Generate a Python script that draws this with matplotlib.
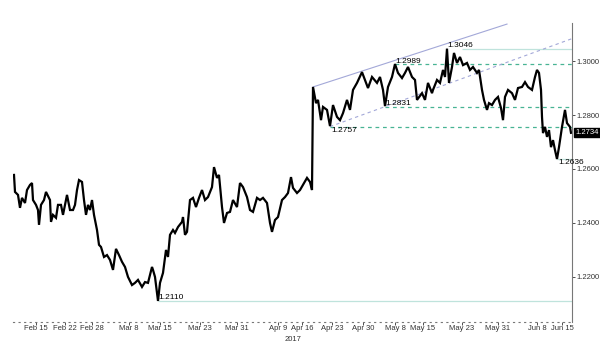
import matplotlib
matplotlib.use("Agg")
import matplotlib.pyplot as plt
import matplotlib.transforms as mtransforms

plt.rcParams["font.family"] = ["Liberation Sans Narrow", "Liberation Sans", "DejaVu Sans"]

# 4-hour bar index and close price (GBP/USD, Feb - Jun 2017)
bars = [1, 2, 5, 7, 9, 12, 14, 17, 19, 20, 23, 25, 26, 28, 31, 33, 35, 37, 38, 40,
        43, 45, 48, 50, 52, 54, 57, 60, 62, 64, 66, 69, 71, 73, 75, 77, 79, 81, 84, 86,
        88, 91, 94, 97, 100, 103, 106, 109, 112, 115, 119, 122, 125, 129, 132, 135, 139, 140, 142, 144,
        145, 147, 150, 153, 155, 157, 160, 162, 165, 169, 170, 172, 174, 177, 180, 183, 186, 189, 192, 195,
        199, 201, 204, 206, 209, 211, 214, 217, 220, 224, 227, 230, 234, 237, 240, 244, 247, 250, 254, 257,
        259, 262, 265, 269, 272, 275, 278, 280, 284, 287, 290, 294, 297, 299, 300, 303, 305, 308, 310, 314,
        317, 320, 324, 327, 330, 334, 337, 340, 344, 349, 352, 355, 359, 364, 367, 370, 372, 375, 379, 382,
        385, 389, 392, 395, 399, 402, 404, 409, 412, 415, 419, 420, 424, 427, 430, 432, 434, 436, 439, 441,
        444, 447, 450, 454, 457, 460, 464, 466, 469, 471, 474, 476, 479, 482, 485, 488, 490, 492, 495, 499,
        502, 505, 509, 512, 515, 519, 522, 524, 526, 528, 529, 530, 532, 534, 536, 538, 540, 542, 544, 546,
        549, 552, 554, 557, 558]
price = [1.2578, 1.2515, 1.2504, 1.2456, 1.2493, 1.2474, 1.2522, 1.2541, 1.2548, 1.2485,
         1.2467, 1.2448, 1.2393, 1.2467, 1.2485, 1.2515, 1.2500, 1.2485, 1.2404, 1.2430,
         1.2419, 1.2467, 1.2467, 1.2430, 1.2467, 1.2504, 1.2448, 1.2448, 1.2467, 1.2522,
         1.2559, 1.2552, 1.2485, 1.2430, 1.2467, 1.2448, 1.2485, 1.2430, 1.2374, 1.2319,
         1.2311, 1.2274, 1.2281, 1.2263, 1.2226, 1.2304, 1.2281, 1.2256, 1.2237, 1.2200,
         1.2170, 1.2178, 1.2189, 1.2163, 1.2181, 1.2178, 1.2237, 1.2226, 1.2200, 1.2141,
         1.2111, 1.2178, 1.2215, 1.2300, 1.2274, 1.2356, 1.2374, 1.2363, 1.2385, 1.2404,
         1.2422, 1.2356, 1.2367, 1.2485, 1.2493, 1.2459, 1.2493, 1.2522, 1.2485, 1.2496,
         1.2533, 1.2607, 1.2567, 1.2578, 1.2459, 1.2400, 1.2437, 1.2441, 1.2485, 1.2459,
         1.2548, 1.2533, 1.2496, 1.2448, 1.2441, 1.2493, 1.2485, 1.2493, 1.2474, 1.2400,
         1.2367, 1.2411, 1.2422, 1.2485, 1.2496, 1.2511, 1.2570, 1.2530, 1.2511, 1.2522,
         1.2541, 1.2567, 1.2552, 1.2522, 1.2904, 1.2844, 1.2856, 1.2781, 1.2830, 1.2819,
         1.2759, 1.2837, 1.2793, 1.2781, 1.2807, 1.2856, 1.2819, 1.2893, 1.2919, 1.2959,
         1.2930, 1.2900, 1.2941, 1.2919, 1.2941, 1.2893, 1.2833, 1.2904, 1.2941, 1.2989,
         1.2956, 1.2937, 1.2956, 1.2978, 1.2941, 1.2930, 1.2856, 1.2881, 1.2856, 1.2919,
         1.2881, 1.2893, 1.2930, 1.2919, 1.2967, 1.2941, 1.3046, 1.2919, 1.2978, 1.3030,
         1.2993, 1.3015, 1.2985, 1.2993, 1.2967, 1.2978, 1.2956, 1.2967, 1.2893, 1.2856,
         1.2819, 1.2844, 1.2837, 1.2856, 1.2867, 1.2826, 1.2781, 1.2867, 1.2893, 1.2881,
         1.2856, 1.2900, 1.2904, 1.2922, 1.2904, 1.2893, 1.2941, 1.2967, 1.2956, 1.2893,
         1.2793, 1.2733, 1.2756, 1.2719, 1.2744, 1.2681, 1.2707, 1.2670, 1.2637, 1.2681,
         1.2756, 1.2819, 1.2770, 1.2756, 1.2734]

tick_pos = [23, 52, 79, 116, 147, 187, 224, 265, 289, 319, 350, 382, 410, 449, 485, 524, 549]
tick_labels = ["Feb 15", "Feb 22", "Feb 28", "Mar 8", "Mar 15", "Mar 23", "Mar 31", "Apr 9",
               "Apr 16", "Apr 23", "Apr 30", "May 8", "May 15", "May 23", "May 31", "Jun 8", "Jun 15"]
y_ticks = [1.22, 1.24, 1.26, 1.28, 1.30]

# marked levels: (bar where the level starts, price)
low_2110 = (145, 1.2110)
low_2636 = (544, 1.2636)
high_3046 = (449, 1.3046)
dashed_levels = [(382, 1.2989), (372, 1.2831), (317, 1.2757)]
upper_trend = ([300, 494], [1.2904, 1.3137])
lower_trend = ([317, 559], [1.2757, 1.3083])
last_price = 1.2734

x_end = 559

fig = plt.figure(figsize=(6.0, 3.46), dpi=100)
ax = fig.add_axes([13 / 600, 24 / 346, 559 / 600, 299 / 346])

pale = "#bfe3dc"
green = "#48b494"
trend = "#a3a8d8"

ax.hlines(low_2110[1], low_2110[0], x_end, color=pale, lw=0.9)
ax.hlines(low_2636[1], low_2636[0], x_end, color=pale, lw=0.9)
ax.hlines(high_3046[1], high_3046[0], x_end, color=pale, lw=0.9)
for b, lv in dashed_levels:
    ax.hlines(lv, b, x_end, color=green, lw=0.9, linestyles=(0, (3, 3)))
ax.plot(upper_trend[0], upper_trend[1], color=trend, lw=0.8)
ax.plot(lower_trend[0], lower_trend[1], color=trend, lw=0.8, ls=(0, (3, 3)))

ax.plot(bars, price, color="black", lw=1.6, solid_joinstyle="miter")

fs = 6
ax.text(145, 1.2124, "1.2110", fontsize=fs, va="center", ha="left")
ax.text(545, 1.2623, "1.2636", fontsize=fs, va="center", ha="left")
ax.text(434, 1.3058, "1.3046", fontsize=fs, va="center", ha="left")
ax.text(382, 1.2997, "1.2989", fontsize=fs, va="center", ha="left")
ax.text(372, 1.2843, "1.2831", fontsize=fs, va="center", ha="left")
ax.text(318, 1.2741, "1.2757", fontsize=fs, va="center", ha="left")

trans = mtransforms.blended_transform_factory(ax.transAxes, ax.transData)
ax.text(1.006, last_price, f"{last_price:.4f}", transform=trans, fontsize=fs - 0.5,
        color="white", va="center", ha="left",
        bbox=dict(boxstyle="square,pad=0.15", fc="black", ec="black"))

ax.set_xlim(0, x_end)
ax.set_ylim(1.2033, 1.3141)

ax.yaxis.tick_right()
ax.set_yticks(y_ticks)
ax.set_yticklabels([f"{v:.4f}" for v in y_ticks])
ax.set_xticks(tick_pos)
ax.set_xticklabels(tick_labels)
ax.tick_params(axis="both", labelsize=fs - 0.5, length=2, width=0.6, colors="#333333", pad=1.5)
ax.tick_params(axis="x", pad=0.5)
ax.text(280, -0.046, "2017", transform=mtransforms.blended_transform_factory(ax.transData, ax.transAxes),
        fontsize=fs - 0.5, ha="center", va="top", color="#333333")

for s in ["top", "left"]:
    ax.spines[s].set_visible(False)
ax.spines["right"].set_color("#777777")
ax.spines["right"].set_linewidth(0.8)
ax.spines["bottom"].set_color("#777777")
ax.spines["bottom"].set_linewidth(0.8)
ax.spines["bottom"].set_linestyle((0, (1, 4)))

fig.savefig("out.png", dpi=100)
